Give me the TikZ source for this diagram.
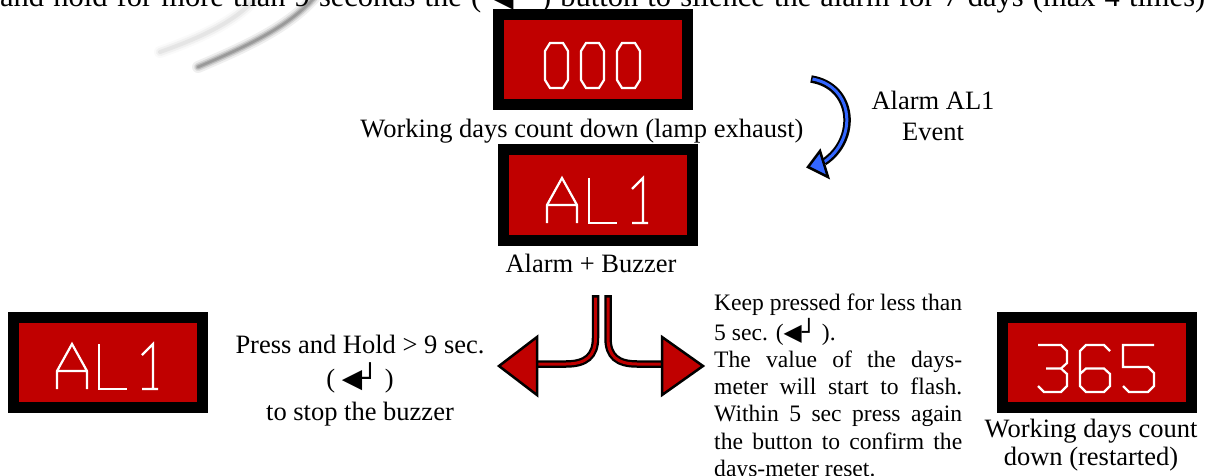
\documentclass[tikz,border=0pt]{standalone}
\usepackage{fontspec}
\setmainfont{Liberation Serif}
\newfontfamily\symf{DejaVu Sans}
\definecolor{dispred}{RGB}{192,0,0}
\definecolor{arrblue}{RGB}{51,102,255}
\newcommand{\btn}{{\symf ◀┘}}
\newcommand{\gZero}{\draw[glyph] (5,0)--(18,0)--(23,8)--(23,37)--(18,45)--(5,45)--(0,37)--(0,8)--cycle;}
\newcommand{\gA}{\draw[glyph] (0,45)--(0,27)--(15,0)--(30,27)--(30,45) (0,27)--(30,27);}
\newcommand{\gL}{\draw[glyph] (0,0)--(0,45)--(28,45);}
\newcommand{\gOne}{\draw[glyph] (0,11)--(11,0)--(11,45) (0,45)--(16,45);}
\newcommand{\gThree}{\draw[glyph] (0,0)--(23,0)--(29,6)--(29,18)--(23,23.5)--(29,29)--(29,41)--(23,47)--(6,47)--(0,41) (8,23.5)--(23,23.5);}
\newcommand{\gSix}{\draw[glyph] (30,6)--(24,0)--(6,0)--(0,6)--(0,41)--(6,47)--(24,47)--(30,41)--(30,29)--(24,23.5)--(6,23.5)--(0,29);}
\newcommand{\gFive}{\draw[glyph] (31,0)--(0,0)--(0,22)--(25,22)--(31,28)--(31,41)--(25,47)--(6,47)--(0,41);}
\newcommand{\glyphat}[2]{\begin{scope}[shift={#1}]#2\end{scope}}
\begin{document}
\begin{tikzpicture}[x=1pt,y=-1pt,
  txt/.style={font=\fontsize{26.5}{32}\selectfont, inner sep=0pt},
  small/.style={font=\fontsize{23.6}{27.2}\selectfont, inner sep=0pt},
  glyph/.style={draw=white, line width=2.2pt, line join=miter, line cap=butt},
  disp/.style={draw=black, line width=11pt, fill=dispred, minimum width=189pt, minimum height=90pt, inner sep=0pt},
  shaftout/.style={draw=black, line width=7.5pt},
  shaftin/.style={line width=3pt},
  headstyle/.style={draw=black, line width=2.5pt, line join=miter}]
\useasboundingbox (0,0) rectangle (1208,476);
\fill[white] (0,0) rectangle (1208,476);

% grey swoosh
\foreach \w/\o in {12/0.04,8/0.07,4/0.1}{
  \draw[gray, line width=\w pt, opacity=\o, line cap=round] (160,52) .. controls (200,38) and (234,22) .. (254,0);
}
\foreach \w/\o in {12/0.1,8/0.18,5/0.28,2.5/0.35}{
  \draw[gray!80!black, line width=\w pt, opacity=\o, line cap=round] (198,67) .. controls (245,47) and (287,28) .. (314,-2);
}

% top (cropped) sentence
\node[inner sep=0pt, font=\fontsize{30.5}{36}\selectfont, anchor=base west] (top) at (0,7) {\makebox[1205pt][s]{and hold for more than 9 seconds the ( \btn\ ) button to silence the alarm for 7 days (max 4 times)}};

% displays
\node[disp] (d000) at (593,59.5) {};
\glyphat{(545,43)}{\gZero}
\glyphat{(581,43)}{\gZero}
\glyphat{(617,43)}{\gZero}
\node[txt, anchor=base] (l000) at (582,138) {Working days count down (lamp exhaust)};

\node[disp] (dal1) at (597.5,195) {};
\glyphat{(547,178)}{\gA}
\glyphat{(589,178)}{\gL}
\glyphat{(632,178)}{\gOne}
\node[txt, anchor=base] (lal1) at (591,272) {Alarm + Buzzer};

\node[disp] (dleft) at (108,362.5) {};
\glyphat{(57,344)}{\gA}
\glyphat{(99,344)}{\gL}
\glyphat{(142,344)}{\gOne}

\node[disp] (dright) at (1097,362.5) {};
\glyphat{(1038,345)}{\gThree}
\glyphat{(1080,345)}{\gSix}
\glyphat{(1123,345)}{\gFive}
\node[txt, anchor=base] (lright) at (1091,437) {\fontsize{26.5}{28}\selectfont\begin{tabular}[t]{@{}c@{}}Working days count\\down (restarted)\end{tabular}};

% event label and blue arrow
\node[txt, anchor=base] (event) at (933,110) {\fontsize{26.5}{31}\selectfont\begin{tabular}[t]{@{}c@{}}Alarm AL1\\Event\end{tabular}};
\coordinate (bs) at (811,79);
\coordinate (be) at (824,162);
\draw[shaftout] (bs) .. controls (855,86) and (858,140) .. (be);
\draw[shaftin, arrblue] ([xshift=1.5pt]bs) .. controls (855,87) and (857,140) .. (be);
\filldraw[headstyle, fill=arrblue] (820,151) -- (828,177) -- (808,167) -- cycle;

% press & hold label
\node[txt, anchor=base] (press) at (360,353) {\fontsize{26.5}{32.5}\selectfont\begin{tabular}[t]{@{}c@{}}Press and Hold > 9 sec.\\( \btn\ )\\to stop the buzzer\end{tabular}};

% keep pressed paragraph
\node[small, anchor=base west] (keep) at (714,310) {\fontsize{23.6}{27.2}\selectfont\begin{tabular}[t]{@{}l@{}}
\makebox[248pt][s]{Keep pressed for less than}\\
5 sec. (\btn\ ).\\
\makebox[248pt][s]{The value of the days-}\\
\makebox[248pt][s]{meter will start to flash.}\\
\makebox[248pt][s]{Within 5 sec press again}\\
\makebox[248pt][s]{the button to confirm the}\\
days-meter reset.\end{tabular}};

% red split arrow
\coordinate (sl) at (595.5,295);
\coordinate (sr) at (608,295);
\coordinate (hl) at (537,364);
\coordinate (hr) at (662,364);
\draw[shaftout] (sl) -- (595.5,338) .. controls (595.5,356) and (586,364) .. (566,364) -- (hl);
\draw[shaftout] (sr) -- (608,338) .. controls (608,356) and (617,364) .. (637,364) -- (hr);
\draw[shaftin, dispred] (595.5,297.5) -- (595.5,338) .. controls (595.5,356) and (586,364) .. (566,364) -- (hl);
\draw[shaftin, dispred] (608,297.5) -- (608,338) .. controls (608,356) and (617,364) .. (637,364) -- (hr);
\filldraw[headstyle, fill=dispred] (537,337) -- (537,395) -- (499,366) -- cycle;
\filldraw[headstyle, fill=dispred] (662,337) -- (662,395) -- (703,366) -- cycle;
\end{tikzpicture}
\end{document}
